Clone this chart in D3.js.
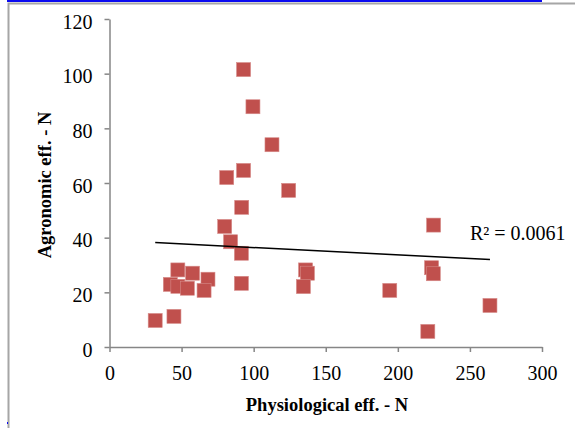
<!DOCTYPE html>
<html>
<head>
<meta charset="utf-8">
<script src="https://cdn.jsdelivr.net/npm/d3@7"></script>
<style>
  body { margin: 0; background: #fff; }
  svg { display: block; }
  svg text { font-family: 'Liberation Serif', 'Times New Roman', serif; }
</style>
</head>
<body>
<div id="canvas"></div>
<script>
// physiological eff. (x) and agronomic eff. (y)
var physEff = [93, 99.5, 112.7, 93, 81.3, 124.3, 91.7, 79.9, 84, 91.5,
    224.8, 223.4, 224.6, 263.9, 194.4, 220.8, 136, 137.3, 134.5, 91.5,
    31.7, 44.7, 47.4, 57.6, 68.3, 42.2, 47.4, 54, 65.6];
var agroEff = [101.5, 87.9, 74, 64.6, 62, 57.3, 51.1, 44.1, 38.5, 34.3,
    44.6, 29, 26.8, 15.2, 20.7, 5.7, 28.2, 27, 22.1, 23.3,
    9.7, 11.2, 28.2, 27, 24.8, 22.9, 22.2, 21.5, 20.7];

// linear trendline end points
var trendX = [31.7, 263.9];
var trendY = [38.2, 32.0];
var rSquared = "R² = 0.0061";

var xTicks = [0, 50, 100, 150, 200, 250, 300];
var yTicks = [0, 20, 40, 60, 80, 100, 120];

var svgWidth = 575;
var svgHeight = 428;
var markerColor = '#c0504d';
var axisColor = '#868686';
var serif = "'Liberation Serif', 'Times New Roman', serif";

var svg = d3.select('#canvas')
    .append('svg')
    .attr('width', svgWidth)
    .attr('height', svgHeight);

// frame and the blue strip on top
svg.append('rect')
    .attr('x', 8.5).attr('y', 3.5)
    .attr('width', 620).attr('height', 500)
    .attr('fill', 'none')
    .attr('stroke', '#a6a6a6')
    .attr('stroke-width', 2);
svg.append('rect')
    .attr('x', 7).attr('y', 0)
    .attr('width', 535).attr('height', 2)
    .attr('fill', '#0a0af0');
svg.append('rect')
    .attr('x', 7).attr('y', 422)
    .attr('width', 1).attr('height', 2)
    .attr('fill', '#0a0af0');

var x = d3.scaleLinear().domain([0, 300]).range([109.5, 542]);
var y = d3.scaleLinear().domain([0, 120]).range([347, 19]);

var xAxis = svg.append('g')
    .attr('transform', 'translate(0,' + y(0) + ')')
    .call(d3.axisBottom(x).tickValues(xTicks).tickSize(5).tickSizeOuter(0).tickPadding(8));
var yAxis = svg.append('g')
    .attr('transform', 'translate(' + x(0) + ',0)')
    .call(d3.axisLeft(y).tickValues(yTicks).tickSize(5).tickSizeOuter(0).tickPadding(12));

[xAxis, yAxis].forEach(function (g) {
    g.attr('font-family', null).attr('font-size', null);
    g.select('.domain').attr('stroke', axisColor).attr('stroke-width', 1.5);
    g.selectAll('.tick line').attr('stroke', axisColor).attr('stroke-width', 1.5);
    g.selectAll('.tick text')
        .attr('fill', '#000')
        .style('font-family', serif)
        .style('font-size', '20px');
});
xAxis.selectAll('.tick text').attr('dy', '1.0em');
yAxis.selectAll('.tick text').attr('dy', '0.45em');

// markers
svg.append('g').selectAll('rect')
    .data(physEff)
    .enter()
    .append('rect')
    .attr('x', function (d) { return x(d) - 7; })
    .attr('y', function (d, i) { return y(agroEff[i]) - 7; })
    .attr('width', 14)
    .attr('height', 14)
    .attr('fill', markerColor)
    .attr('stroke', '#d68a88')
    .attr('stroke-width', 0.6);

// trendline
svg.append('line')
    .attr('x1', x(trendX[0])).attr('y1', y(trendY[0]))
    .attr('x2', x(trendX[1])).attr('y2', y(trendY[1]))
    .attr('stroke', '#000')
    .attr('stroke-width', 1.5);

svg.append('text')
    .attr('x', 470)
    .attr('y', 240)
    .text(rSquared)
    .style('font-family', serif)
    .style('font-size', '20px')
    .attr('fill', '#000');

// axis titles
svg.append('text')
    .attr('x', 327)
    .attr('y', 411)
    .text('Physiological eff. - N')
    .style('font-family', serif)
    .attr('font-weight', 'bold')
    .style('font-size', '18.5px')
    .attr('text-anchor', 'middle');

svg.append('text')
    .attr('transform', 'translate(51,185) rotate(-90)')
    .text('Agronomic eff. - N')
    .style('font-family', serif)
    .attr('font-weight', 'bold')
    .style('font-size', '18.5px')
    .attr('text-anchor', 'middle');
</script>
</body>
</html>
